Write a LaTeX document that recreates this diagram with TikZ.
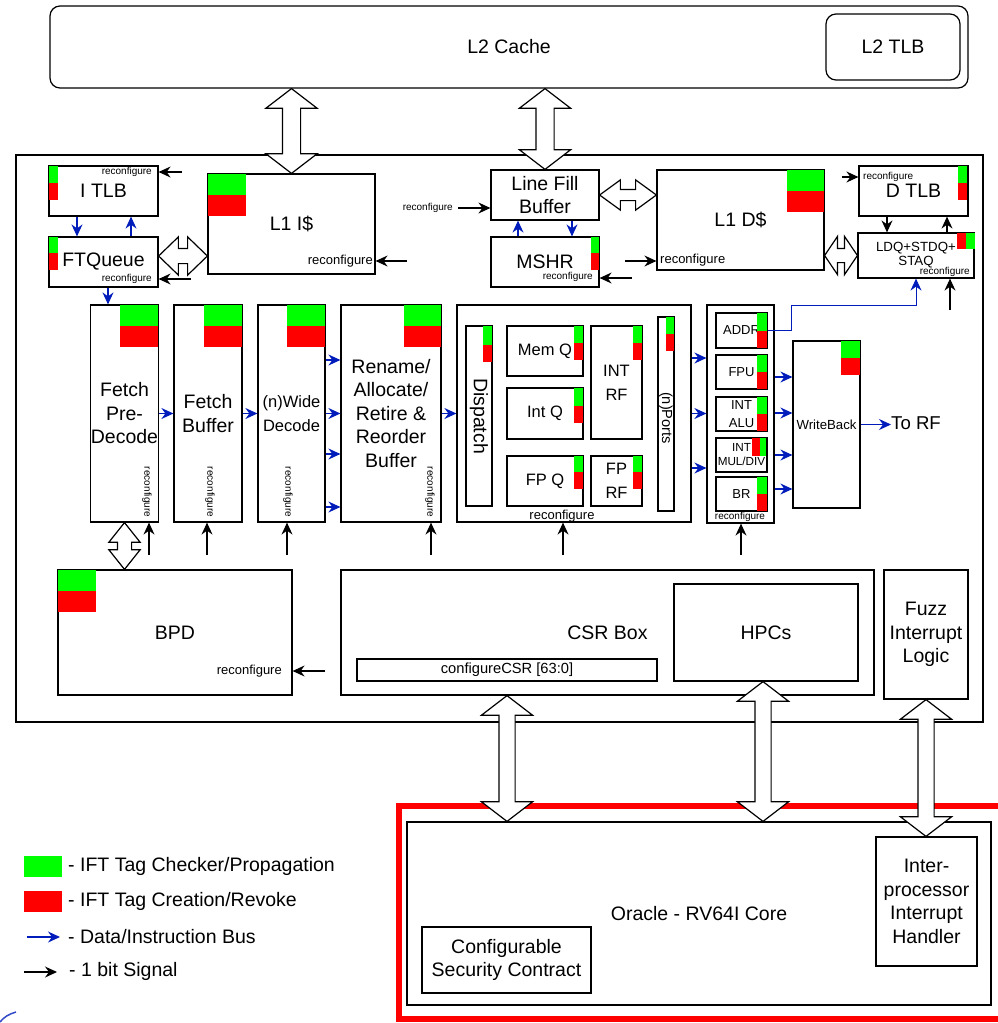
\documentclass[tikz,border=0pt]{standalone}
\usepackage{fontspec}
\setmainfont{Liberation Sans}
\usetikzlibrary{shapes.arrows,arrows.meta,calc}

\definecolor{busblue}{RGB}{0,29,188}
\definecolor{tagg}{RGB}{0,255,0}
\definecolor{tagr}{RGB}{255,0,0}

% green (checker) over red (creation) tag
\newcommand{\tagbar}[5]{%
  \fill[tagg] (#1,#3) rectangle (#2,#4);
  \fill[tagr] (#1,#4) rectangle (#2,#5);}

% hollow double arrow between two points: from, to, half shaft, head extend, tip angle
\newcommand{\fatlink}[5]{%
  \path let \p1=(#1), \p2=(#2), \n1={veclen(\x2-\x1,\y2-\y1)}, \n2={atan2(\y2-\y1,\x2-\x1)} in
    node[fat, minimum height=\n1, inner ysep=#3, double arrow head extend=#4,
         double arrow tip angle=#5, rotate=\n2] at ($(\p1)!.5!(\p2)$) {};}

\tikzset{
  blk/.style={draw, line width=1.2pt, inner sep=0pt, align=center, fill=white},
  big/.style={font=\fontsize{19.5}{23.5}\selectfont},
  mid/.style={font=\fontsize{16.5}{24}\selectfont},
  sml/.style={font=\fontsize{13}{18}\selectfont},
  cfg/.style={font=\fontsize{10}{12}\selectfont, inner sep=0pt},
  cfgl/.style={font=\fontsize{13}{15}\selectfont, inner sep=0pt},
  sig/.style={line width=1.2pt, -{Stealth[length=12pt,width=11pt,inset=4pt]}},
  bus/.style={sig, draw=busblue},
  fat/.style={double arrow, draw, line width=1.2pt, fill=white, inner xsep=0pt, outer sep=0pt},
  keytxt/.style={big, anchor=west, inner sep=0pt},
}

\begin{document}
\begin{tikzpicture}[x=1pt, y=-1pt]
  \useasboundingbox (0,0) rectangle (997,1023);

  % L2 and core outline
  \node[blk, big, rounded corners=10pt, minimum width=918pt, minimum height=82pt] (l2) at (509,47) {L2 Cache};
  \node[blk, big, rounded corners=10pt, minimum width=134pt, minimum height=66pt] (l2tlb) at (893,47) {L2 TLB};
  \node[blk, minimum width=967pt, minimum height=567pt] (core) at (499.5,438.5) {};

  % front end
  \node[blk, big, minimum width=109pt, minimum height=50pt] (itlb) at (103.5,191) {I TLB};
  \node[blk, big, minimum width=109pt, minimum height=50pt] (ftq) at (103.5,262) {FTQueue};
  \node[blk, big, minimum width=167pt, minimum height=100pt] (l1i) at (291.5,224) {L1 I\$};
  \node[blk, big, minimum width=108pt, minimum height=50pt] (lfb) at (545,195) {Line Fill\\Buffer};
  \node[blk, big, minimum width=108pt, minimum height=50pt] (mshr) at (545,262) {MSHR};
  \node[blk, big, minimum width=167pt, minimum height=100pt] (l1d) at (740.5,220) {L1 D\$};
  \node[blk, big, minimum width=109pt, minimum height=50pt] (dtlb) at (913.5,191) {D TLB};
  \node[blk, font=\fontsize{13.3}{14}\selectfont, minimum width=116pt, minimum height=45pt] (lsq) at (916,255.5) {LDQ+STDQ+\\STAQ};

  % pipeline
  \node[blk, big, minimum width=67pt, minimum height=217pt] (fpd) at (124.5,413.5) {Fetch\\Pre-\\Decode};
  \node[blk, big, minimum width=68pt, minimum height=217pt] (fbuf) at (208,413.5) {Fetch\\Buffer};
  \node[blk, mid, minimum width=67pt, minimum height=217pt] (dec) at (291.5,413.5) {(n)Wide\\Decode};
  \node[blk, big, minimum width=100pt, minimum height=217pt] (rob) at (391,413.5) {Rename/\\Allocate/\\Retire \&\\Reorder\\Buffer};

  \node[blk, minimum width=234pt, minimum height=217pt] (issue) at (574,413.5) {};
  \node[blk, minimum width=26pt, minimum height=180pt] (disp) at (479,416) {};
  \node[big, rotate=-90, inner sep=0pt] (displbl) at (disp) {Dispatch};
  \node[blk, mid, minimum width=76pt, minimum height=50pt] (memq) at (545,351) {Mem Q};
  \node[blk, mid, minimum width=76pt, minimum height=51pt] (intq) at (545,413.5) {Int Q};
  \node[blk, mid, minimum width=76pt, minimum height=50pt] (fpq) at (545,481) {FP Q};
  \node[blk, mid, minimum width=51pt, minimum height=113pt] (intrf) at (616.5,382.5) {INT\\RF};
  \node[blk, mid, minimum width=51pt, minimum height=50pt] (fprf) at (616.5,481) {FP\\RF};
  \node[blk, minimum width=16pt, minimum height=194pt] (ports) at (666,414) {};
  \node[font=\fontsize{14.6}{16}\selectfont, rotate=-90, inner sep=0pt] (portslbl) at (666,418) {(n)Ports};

  \node[blk, minimum width=67pt, minimum height=218pt] (exu) at (740.5,414) {};
  \node[blk, sml, minimum width=51pt, minimum height=35pt] (addr) at (741.5,330.5) {ADDR};
  \node[blk, sml, minimum width=51pt, minimum height=34pt] (fpu) at (741.5,372) {FPU};
  \node[blk, sml, minimum width=51pt, minimum height=34pt] (alu) at (741.5,414) {INT\\ALU};
  \node[blk, font=\fontsize{11.7}{14}\selectfont, minimum width=51pt, minimum height=34pt] (muldiv) at (741.5,455) {INT\\MUL/DIV};
  \node[blk, sml, minimum width=51pt, minimum height=34pt] (br) at (741.5,494) {BR};
  \node[blk, font=\fontsize{13.2}{15}\selectfont, minimum width=67pt, minimum height=167pt] (wb) at (826.5,424.5) {WriteBack};
  \node[font=\fontsize{18.6}{20}\selectfont, anchor=west, inner sep=0pt] (torf) at (891,423) {To RF};

  % lower row
  \node[blk, big, minimum width=234pt, minimum height=125pt] (bpd) at (175,632.5) {BPD};
  \node[blk, big, minimum width=533pt, minimum height=125pt] (csr) at (607.5,632.5) {CSR Box};
  \node[blk, font=\fontsize{14.7}{16}\selectfont, minimum width=300pt, minimum height=22pt] (cfgcsr) at (507,670) {configureCSR [63:0]};
  \node[blk, big, minimum width=184pt, minimum height=97pt] (hpc) at (766,632.5) {HPCs};
  \node[blk, big, minimum width=84pt, minimum height=129pt] (fuzz) at (926,634.5) {Fuzz\\Interrupt\\Logic};

  % oracle
  \node[draw=tagr, line width=6pt, minimum width=604pt, minimum height=213pt] (oraclebound) at (701,912.5) {};
  \node[blk, big, minimum width=584pt, minimum height=183pt] (oracle) at (699,913.5) {Oracle - RV64I Core};
  \node[blk, big, minimum width=169pt, minimum height=66pt] (csc) at (506.5,960) {Configurable\\Security Contract};
  \node[blk, big, minimum width=101pt, minimum height=129pt] (ipi) at (926.5,901.5) {Inter-\\processor\\Interrupt\\Handler};

  % tags
  \tagbar{49}{58}{166}{183}{200}
  \tagbar{49}{58}{237}{253}{270}
  \tagbar{208}{246}{174}{195}{216}
  \tagbar{591}{599}{237}{253}{270}
  \tagbar{787}{824}{170}{191}{212}
  \tagbar{958}{967}{166}{183}{200}
  \fill[tagr] (957,233) rectangle (966,249);
  \fill[tagg] (966,233) rectangle (975,249);
  \tagbar{120}{158}{305}{326}{347}
  \tagbar{204}{242}{305}{326}{347}
  \tagbar{287}{325}{305}{326}{347}
  \tagbar{404}{441}{305}{326}{347}
  \tagbar{483}{492}{326}{345}{362}
  \tagbar{574}{583}{326}{343}{360}
  \tagbar{574}{583}{388}{406}{423}
  \tagbar{574}{583}{456}{472}{489}
  \tagbar{633}{642}{326}{343}{360}
  \tagbar{633}{642}{456}{472}{489}
  \tagbar{666}{674}{317}{334}{351}
  \tagbar{757}{767}{313}{331}{348}
  \tagbar{757}{767}{355}{372}{389}
  \tagbar{757}{767}{397}{414}{431}
  \fill[tagr] (752,438) rectangle (760,456);
  \fill[tagg] (760,438) rectangle (766,456);
  \tagbar{757}{767}{477}{494}{511}
  \tagbar{841}{860}{341}{358}{375}
  \tagbar{58}{96}{570}{591}{612}

  % reconfigure inputs
  \node[cfg, anchor=east] (itlbcfg) at (152,172) {reconfigure};
  \node[cfg, anchor=east] (ftqcfg) at (152,279) {reconfigure};
  \node[cfgl, anchor=east] (l1icfg) at (373,261) {reconfigure};
  \node[cfg, anchor=east] (lfbcfg) at (453,208) {reconfigure};
  \node[cfg, anchor=east] (mshrcfg) at (593,276.5) {reconfigure};
  \node[cfgl, anchor=west] (l1dcfg) at (660,260) {reconfigure};
  \node[cfg, anchor=west] (dtlbcfg) at (863,177) {reconfigure};
  \node[cfg, anchor=east] (lsqcfg) at (970,272) {reconfigure};
  \node[cfg, rotate=-90] (fpdcfg) at (147,492) {reconfigure};
  \node[cfg, rotate=-90] (fbufcfg) at (210,492) {reconfigure};
  \node[cfg, rotate=-90] (deccfg) at (288,492) {reconfigure};
  \node[cfg, rotate=-90] (robcfg) at (430,492) {reconfigure};
  \node[cfgl] (issuecfg) at (562,516) {reconfigure};
  \node[cfg] (exucfg) at (740,517) {reconfigure};
  \node[cfgl, anchor=east] (bpdcfg) at (282,671) {reconfigure};

  \coordinate (itlbin) at (182,172);
  \coordinate (ftqin) at (191,279);
  \coordinate (l1iin) at (407,261);
  \coordinate (lfbin) at (458,208);
  \coordinate (mshrin) at (632,278);
  \coordinate (l1din) at (625,261);
  \coordinate (dtlbin) at (842,177);
  \coordinate (lsqin) at (950,310);
  \coordinate (bpdin) at (325,671);
  \draw[sig] (itlbin) -- (itlbin -| itlb.east);
  \draw[sig] (ftqin) -- (ftqin -| ftq.east);
  \draw[sig] (l1iin) -- (l1iin -| l1i.east);
  \draw[sig] (lfbin) -- (lfbin -| lfb.west);
  \draw[sig] (mshrin) -- (mshrin -| mshr.east);
  \draw[sig] (l1din) -- (l1din -| l1d.west);
  \draw[sig] (dtlbin) -- (dtlbin -| dtlb.west);
  \draw[sig] (lsqin) -- (lsqin |- lsq.south);
  \draw[sig] (bpdin) -- (bpdin -| bpd.east);
  \draw[sig] ([xshift=-26.5pt]dtlb.south) -- ([xshift=-26.5pt]dtlb.south |- lsq.north);
  \draw[sig] ([xshift=33.5pt]dtlb.south |- lsq.north) -- ([xshift=33.5pt]dtlb.south);
  \foreach \blkname/\px in {fpd/149, fbuf/207, dec/287, rob/431, issue/563, exu/741} {
    \coordinate (\blkname in) at (\px,555);
    \draw[sig] (\blkname in) -- (\blkname in |- \blkname.south);
  }

  % data/instruction buses
  \draw[bus] ([xshift=-26.5pt]itlb.south) -- ([xshift=-26.5pt]ftq.north);
  \draw[bus] ([xshift=27.5pt]ftq.north) -- ([xshift=27.5pt]itlb.south);
  \draw[bus] ([xshift=4.5pt]ftq.south) -- ([xshift=4.5pt]ftq.south |- fpd.north);
  \draw[bus] ([xshift=-27pt]mshr.north) -- ([xshift=-27pt]lfb.south);
  \draw[bus] ([xshift=27pt]lfb.south) -- ([xshift=27pt]mshr.north);
  \draw[bus] (fpd.east) -- (fbuf.west);
  \draw[bus] (fbuf.east) -- (dec.west);
  \foreach \dy in {53.5,0,-40.5,-93.5}
    \draw[bus] ([yshift=\dy pt]dec.east) -- ([yshift=\dy pt]dec.east -| rob.west);
  \draw[bus] (rob.east) -- (issue.west);
  \foreach \dy in {55.5,0,-54.5}
    \draw[bus] ([yshift=\dy pt]issue.east) -- ([yshift=\dy pt]issue.east -| exu.west);
  \foreach \dy in {37,1,-41,-75}
    \draw[bus] ([yshift=\dy pt]exu.east) -- ([yshift=\dy pt]exu.east -| wb.west);
  \draw[bus] (wb.east) -- (torf.west |- wb.east);
  \draw[bus, line width=1pt] (addr.east) -- ++(24,0) |- ($(lsq.south)+(0,27)$) -- (lsq.south);

  % wide links
  \fatlink{l1i.north |- l2.south}{l1i.north}{8.5pt}{16.5pt}{105}
  \fatlink{lfb.north |- l2.south}{lfb.north}{8.5pt}{16.5pt}{105}
  \fatlink{[yshift=6pt]ftq.east}{[yshift=6pt]ftq.east -| l1i.west}{7pt}{11.5pt}{88}
  \fatlink{lfb.east}{lfb.east -| l1d.west}{5pt}{9.5pt}{72}
  \fatlink{lsq.west -| l1d.east}{lsq.west}{6.5pt}{12pt}{112}
  \fatlink{fpd.south}{fpd.south |- bpd.north}{6.5pt}{8.5pt}{77}
  \fatlink{csr.south -| cfgcsr.south}{oracle.north -| cfgcsr.south}{7.5pt}{17.5pt}{105}
  \fatlink{[xshift=-3pt]hpc.south}{[xshift=-3pt]hpc.south |- oracle.north}{7.5pt}{17.5pt}{105}
  \fatlink{fuzz.south}{fuzz.south |- ipi.north}{7.5pt}{17.5pt}{105}

  % key
  \node[fill=tagg, minimum width=38pt, minimum height=21pt, inner sep=0pt] (keychk) at (43,866.5) {};
  \node[keytxt] (keychktxt) at (68,866) {- IFT Tag Checker/Propagation};
  \node[fill=tagr, minimum width=38pt, minimum height=21pt, inner sep=0pt] (keynew) at (43,901.5) {};
  \node[keytxt] (keynewtxt) at (68,901) {- IFT Tag Creation/Revoke};
  \coordinate (keybusa) at (27,937);
  \coordinate (keybusb) at (60,937);
  \draw[bus] (keybusa) -- (keybusb);
  \node[keytxt] (keybustxt) at (68,937) {- Data/Instruction Bus};
  \coordinate (keysiga) at (24,972);
  \coordinate (keysigb) at (57,972);
  \draw[sig] (keysiga) -- (keysigb);
  \node[keytxt] (keysigtxt) at (69,971) {- 1 bit Signal};

  % clipped blue outline at the corner
  \draw[busblue!80, line width=1.5pt] (0,1022) .. controls (4,1017) and (9,1014) .. (16,1012);
\end{tikzpicture}
\end{document}
